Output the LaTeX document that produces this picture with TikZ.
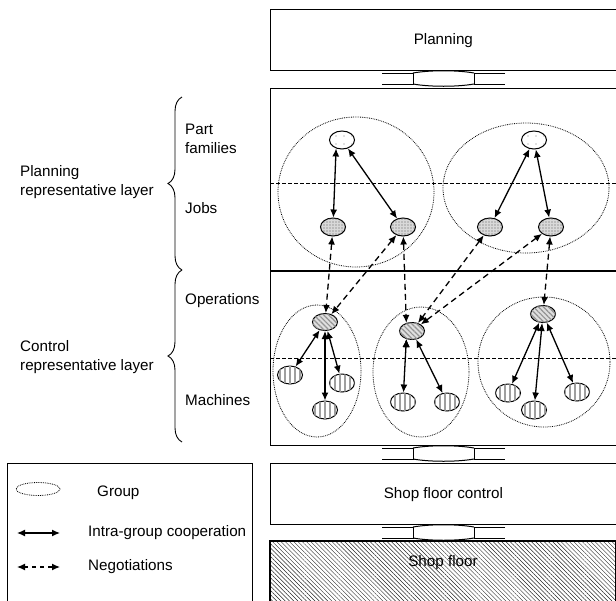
\documentclass[tikz,border=0pt]{standalone}
\usepackage{fontspec}
\setmainfont{Liberation Sans}
\usetikzlibrary{arrows.meta,shapes.geometric,patterns.meta,decorations.pathreplacing}

\begin{document}
\begin{tikzpicture}[x=1pt,y=-1pt,font=\fontsize{15.2}{19}\selectfont]
    \tikzstyle{layerbox} = [draw, line width=1.2pt, anchor=north west, minimum width=345.5pt, inner sep=0pt];
    \tikzstyle{group} = [ellipse, draw, densely dotted, line width=0.8pt, inner sep=0pt];
    \tikzstyle{agent} = [ellipse, draw, line width=1pt, minimum width=25pt, minimum height=18pt, inner sep=0pt];
    \tikzstyle{family} = [agent, fill=white, postaction={pattern={Dots[distance=8pt,radius=0.7pt]}, pattern color=gray}];
    \tikzstyle{job} = [agent, fill=gray!30, postaction={pattern={Dots[distance=3pt,radius=0.7pt]}, pattern color=black!65}];
    \tikzstyle{operation} = [agent, minimum height=17pt, fill=gray!25, postaction={pattern={Lines[angle=-45,distance=3.5pt,line width=1.2pt]}, pattern color=gray!85}];
    \tikzstyle{machine} = [agent, fill=white, postaction={pattern={Lines[angle=90,distance=5pt,line width=1.8pt]}, pattern color=gray!75}];
    \tikzstyle{coop} = [<->, >={Latex[length=8pt,width=7pt]}, line width=1.3pt];
    \tikzstyle{nego} = [<->, >={Latex[length=8pt,width=7pt]}, line width=1.3pt, dash pattern=on 6pt off 4pt];
    \tikzstyle{sidetext} = [anchor=west, align=left, inner sep=0pt];

    \useasboundingbox (0,0) rectangle (616,600);
    \clip (0,0) rectangle (616,600);

    % layers on the right
    \node[layerbox, minimum height=61pt] (plan) at (270,9) {Planning};
    \node[layerbox, minimum height=357pt] (core) at (270,88) {};
    \node[layerbox, minimum height=61pt] (sfc) at (270,463) {Shop floor control};
    \path[draw, line width=1.2pt, pattern={Lines[angle=-45,distance=3pt,line width=0.45pt]}, pattern color=black!85] (270,541) rectangle (615.5,620);
    \node (shop) at (443,563) {Shop floor};

    \draw[line width=2.5pt] (270,271) -- (615.5,271);
    \draw[dash pattern=on 4pt off 2pt, line width=0.8pt] (270,183) -- (615.5,183);
    \draw[dash pattern=on 4pt off 2pt, line width=0.8pt] (270,358) -- (615.5,358);

    % joints between the layers
    \foreach \t in {70,445,524} {
        \draw[line width=1pt] (382,\t+3) -- (413,\t+3) -- (413,\t+14) -- (382,\t+14);
        \draw[line width=1pt] (505,\t+3) -- (474,\t+3) -- (474,\t+14) -- (505,\t+14);
        \draw[line width=1pt] (413,\t+3) .. controls (430,\t) and (457,\t) .. (474,\t+3);
        \draw[line width=1pt] (413,\t+14) .. controls (430,\t+17) and (457,\t+17) .. (474,\t+14);
    }

    % groups
    \node[group, minimum width=156pt, minimum height=150pt] (G1) at (356,192) {};
    \node[group, minimum width=166pt, minimum height=130pt] (G2) at (526,188) {};
    \node[group, minimum width=88pt, minimum height=132pt] (G3) at (317,371) {};
    \node[group, minimum width=96pt, minimum height=130pt] (G4) at (421,372) {};
    \node[group, minimum width=132pt, minimum height=130pt] (G5) at (544,362) {};

    % agents
    \node[family] (F1) at (342,140) {};
    \node[family] (F2) at (534,140) {};
    \node[job] (J1) at (333,227) {};
    \node[job] (J2) at (403,227) {};
    \node[job] (J3) at (490,227) {};
    \node[job] (J4) at (551,227) {};
    \node[operation] (O1) at (325,322) {};
    \node[operation] (O2) at (412,331) {};
    \node[operation] (O3) at (543,314) {};
    \node[machine] (M1) at (290,375) {};
    \node[machine] (M2) at (325,410) {};
    \node[machine] (M3) at (342,383) {};
    \node[machine] (M4) at (403,402) {};
    \node[machine] (M5) at (447,402) {};
    \node[machine] (M6) at (508,393) {};
    \node[machine] (M7) at (534,410) {};
    \node[machine] (M8) at (577,392) {};

    \draw[coop]
        (F1.235) edge (J1)
        (F1) edge (J2)
        (F2) edge (J3)
        (F2) edge (J4)
        (O1) edge (M1)
        (O1) edge (M2)
        (O1) edge (M3)
        (O2.235) edge (M4)
        (O2) edge (M5)
        (O3) edge (M6)
        (O3) edge (M7)
        (O3) edge (M8)
    ;
    \draw[nego]
        (J1) edge (O1)
        (J2) edge (O1)
        (J2) edge (O2.125)
        (J3) edge (O2)
        (J4) edge (O2)
        (J4) edge (O3)
    ;

    % left side
    \draw[decorate, decoration={brace, amplitude=14pt}, line width=0.9pt] (182,270) -- (182,97);
    \draw[decorate, decoration={brace, amplitude=14pt}, line width=0.9pt] (182,442) -- (182,270);
    \node[sidetext] (tplan) at (20,182.5) {Planning\\representative layer};
    \node[sidetext] (tctrl) at (20,357.5) {Control\\representative layer};
    \node[sidetext] (tfam) at (185,139) {Part\\families};
    \node[sidetext] (tjob) at (185,208) {Jobs};
    \node[sidetext] (tops) at (185,301) {Operations};
    \node[sidetext] (tmac) at (185,400) {Machines};

    % legend
    \node[draw, line width=1.2pt, anchor=north west, minimum width=245pt, minimum height=160pt] (legend) at (7,463) {};
    \node[group, minimum width=44pt, minimum height=13pt] (lgroup) at (38,489) {};
    \node[sidetext] (tgroup) at (97,493) {Group};
    \coordinate (c1) at (17,533);
    \coordinate (c2) at (60,533);
    \draw[coop] (c1) -- (c2);
    \node[sidetext] (tcoop) at (88,533) {Intra-group cooperation};
    \coordinate (n1) at (17,567);
    \coordinate (n2) at (60,567);
    \draw[nego, dash pattern=on 4pt off 4pt] (n1) -- (n2);
    \node[sidetext] (tnego) at (88,567) {Negotiations};
\end{tikzpicture}
\end{document}
